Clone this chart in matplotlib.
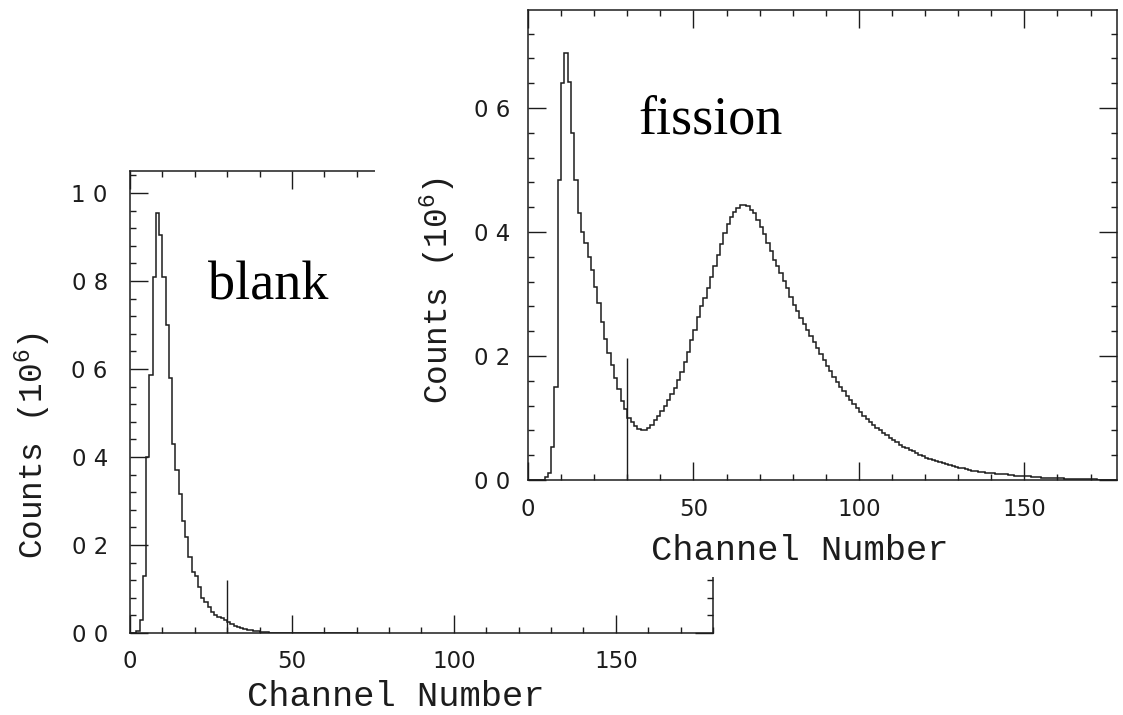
import numpy as np
import matplotlib
matplotlib.use("Agg")
import matplotlib.pyplot as plt
from matplotlib.ticker import MultipleLocator, FixedLocator, FixedFormatter

# ---- data: counts per channel, in units of 10^6 (bin k spans [k, k+1)) ----
blank_counts = [
    0.0, 0.0, 0.005, 0.03, 0.13, 0.40, 0.586, 0.81, 0.955, 0.905,
    0.81, 0.70, 0.58, 0.43, 0.37, 0.317, 0.255, 0.219, 0.173, 0.139,
    0.13, 0.105, 0.08, 0.07, 0.06, 0.048, 0.042, 0.037, 0.033, 0.029,
    0.024, 0.02, 0.016, 0.013, 0.011, 0.009, 0.007, 0.006, 0.005, 0.004,
    0.003, 0.002, 0.002, 0.001, 0.001, 0.0, 0.0, 0.0, 0.0, 0.0,
    0.0, 0.0, 0.0, 0.0, 0.0, 0.0, 0.0, 0.0, 0.0, 0.0,
    0.0, 0.0, 0.0, 0.0, 0.0, 0.0, 0.0, 0.0, 0.0, 0.0,
]

fission_counts = [
    0.0, 0.0, 0.0, 0.0, 0.0, 0.005, 0.012, 0.054, 0.15, 0.484,
    0.64, 0.688, 0.642, 0.559, 0.484, 0.43, 0.40, 0.382, 0.36, 0.339,
    0.312, 0.285, 0.255, 0.228, 0.205, 0.185, 0.165, 0.146, 0.128, 0.114,
    0.100, 0.093, 0.087, 0.083, 0.081, 0.081, 0.084, 0.089, 0.096, 0.103,
    0.111, 0.120, 0.129, 0.138, 0.149, 0.161, 0.174, 0.190, 0.207, 0.225,
    0.242, 0.263, 0.280, 0.294, 0.310, 0.327, 0.345, 0.363, 0.381, 0.398,
    0.413, 0.424, 0.433, 0.439, 0.443, 0.444, 0.442, 0.436, 0.430, 0.420,
    0.408, 0.396, 0.383, 0.369, 0.355, 0.345, 0.334, 0.321, 0.309, 0.295,
    0.283, 0.272, 0.262, 0.251, 0.242, 0.233, 0.223, 0.213, 0.203, 0.193,
    0.184, 0.175, 0.166, 0.158, 0.150, 0.143, 0.136, 0.129, 0.122, 0.116,
    0.110, 0.104, 0.099, 0.094, 0.089, 0.084, 0.080, 0.076, 0.072, 0.068,
    0.064, 0.061, 0.057, 0.054, 0.051, 0.048, 0.046, 0.043, 0.041, 0.038,
    0.036, 0.034, 0.032, 0.030, 0.029, 0.027, 0.025, 0.024, 0.022, 0.021,
    0.020, 0.019, 0.018, 0.016, 0.015, 0.014, 0.013, 0.013, 0.012, 0.011,
    0.011, 0.010, 0.010, 0.009, 0.009, 0.008, 0.008, 0.007, 0.007, 0.006,
    0.006, 0.006, 0.005, 0.005, 0.005, 0.004, 0.004, 0.004, 0.003, 0.003,
    0.003, 0.003, 0.002, 0.002, 0.002, 0.002, 0.002, 0.001, 0.001, 0.001,
    0.001, 0.001, 0.0, 0.0, 0.0, 0.0, 0.0, 0.0,
]

# discriminator threshold channel and the height of its marker in each run
threshold_channel = 30
blank_marker_height = 0.12
fission_marker_height = 0.197

x_ticks = [0, 50, 100, 150]
x_ticklabels = ["0", "50", "100", "150"]
blank_yticks = [0.0, 0.2, 0.4, 0.6, 0.8, 1.0]
blank_yticklabels = ["0 0", "0 2", "0 4", "0 6", "0 8", "1 0"]
fission_yticks = [0.0, 0.2, 0.4, 0.6]
fission_yticklabels = ["0 0", "0 2", "0 4", "0 6"]
x_label = "Channel Number"
y_label = "Counts (10$^{6}$)"

# ---- style ----
plt.rcParams["mathtext.default"] = "regular"
INK = "#1c1c1c"
LABEL_FONT = "Liberation Mono"
TICK_FONT = "DejaVu Sans"
TAG_FONT = "Liberation Serif"

W, H = 1123, 715
fig = plt.figure(figsize=(W / 100, H / 100), dpi=100)
fig.patch.set_facecolor("white")


def px_rect(left, top, right, bottom):
    return [left / W, (H - bottom) / H, (right - left) / W, (bottom - top) / H]


def style_axes(ax, xlim, ylim, yticks, yticklabels, ypad, xpad):
    ax.set_xlim(*xlim)
    ax.set_ylim(*ylim)
    ax.xaxis.set_major_locator(FixedLocator(x_ticks))
    ax.xaxis.set_major_formatter(FixedFormatter(x_ticklabels))
    ax.xaxis.set_minor_locator(MultipleLocator(10))
    ax.yaxis.set_major_locator(FixedLocator(yticks))
    ax.yaxis.set_major_formatter(FixedFormatter(yticklabels))
    ax.yaxis.set_minor_locator(MultipleLocator(0.04))
    ax.tick_params(which="both", direction="in", top=True, right=True,
                   color=INK, width=1.0)
    ax.tick_params(which="major", length=13)
    ax.tick_params(which="minor", length=4)
    ax.tick_params(axis="y", which="major", pad=ypad)
    ax.tick_params(axis="x", which="major", pad=xpad)
    for lab in ax.get_xticklabels() + ax.get_yticklabels():
        lab.set_fontfamily(TICK_FONT)
        lab.set_fontsize(16.5)
        lab.set_color(INK)
    for sp in ax.spines.values():
        sp.set_color(INK)
        sp.set_linewidth(1.1)


# ---- blank spectrum (back panel) ----
ax_b = fig.add_axes(px_rect(130, 171, 713, 633), zorder=1)
ax_b.stairs(blank_counts, np.arange(len(blank_counts) + 1),
            color=INK, linewidth=1.1)
ax_b.vlines(threshold_channel, 0, blank_marker_height, color=INK, linewidth=1.0)
style_axes(ax_b, (0, 180), (0, 1.05), blank_yticks, blank_yticklabels,
           ypad=16, xpad=12)
ax_b.text(0.456, -0.159, x_label, transform=ax_b.transAxes, ha="center",
          va="baseline", fontsize=25.5, family=LABEL_FONT, color=INK)
ax_b.text(-0.166, 0.405, y_label, transform=ax_b.transAxes, ha="center",
          va="center", rotation=90, fontsize=23.5, family=LABEL_FONT, color=INK)

# ---- white sheet carrying the fission panel ----
ax_sheet = fig.add_axes(px_rect(375, 0, W, 577), zorder=2)
ax_sheet.set_facecolor("white")
ax_sheet.set_xticks([])
ax_sheet.set_yticks([])
for sp in ax_sheet.spines.values():
    sp.set_visible(False)

# ---- fission spectrum (front panel) ----
ax_f = fig.add_axes(px_rect(528, 10, 1117, 480), zorder=3)
ax_f.set_facecolor("white")
ax_f.stairs(fission_counts, np.arange(len(fission_counts) + 1),
            color=INK, linewidth=1.1)
ax_f.vlines(threshold_channel, 0, fission_marker_height, color=INK, linewidth=1.0)
style_axes(ax_f, (0, 178), (0, 0.758), fission_yticks, fission_yticklabels,
           ypad=13, xpad=13)
ax_f.text(0.462, -0.170, x_label, transform=ax_f.transAxes, ha="center",
          va="baseline", fontsize=25.5, family=LABEL_FONT, color=INK)
ax_f.text(-0.153, 0.404, y_label, transform=ax_f.transAxes, ha="center",
          va="center", rotation=90, fontsize=23.5, family=LABEL_FONT, color=INK)

# ---- panel tags ----
fig.text(208 / W, (H - 300) / H, "blank", fontsize=39, family=TAG_FONT,
         color="black", ha="left", va="baseline", zorder=10)
fig.text(638 / W, (H - 133) / H, "fission", fontsize=39, family=TAG_FONT,
         color="black", ha="left", va="baseline", zorder=10)

fig.savefig("out.png", dpi=100, facecolor="white")
